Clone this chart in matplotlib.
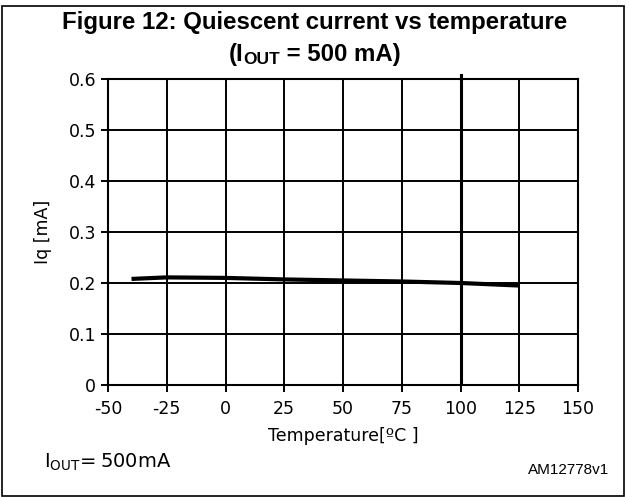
import matplotlib.pyplot as plt
from matplotlib import font_manager
from matplotlib.patches import Rectangle
from matplotlib.lines import Line2D

# data
temperature = [-40, -25, 0, 25, 50, 75, 100, 125]
iq = [0.208, 0.211, 0.210, 0.207, 0.205, 0.203, 0.200, 0.195]
x_ticks = [-50, -25, 0, 25, 50, 75, 100, 125, 150]
y_ticks = [0, 0.1, 0.2, 0.3, 0.4, 0.5, 0.6]
y_labels = ['0', '0.1', '0.2', '0.3', '0.4', '0.5', '0.6']


# pick the regular-width Liberation Sans files (not the Narrow ones)
def liberation(bold):
    for f in font_manager.fontManager.ttflist:
        if f.name == 'Liberation Sans' and 'Narrow' not in f.fname \
                and (f.weight == 700) == bold and f.style == 'normal':
            return font_manager.FontProperties(fname=f.fname)
    return font_manager.FontProperties(family='Liberation Sans',
                                       weight='bold' if bold else 'normal')


title_font = liberation(True)
small_font = liberation(False)

plt.rcParams['font.family'] = ['DejaVu Sans']
plt.rcParams['axes.unicode_minus'] = False
plt.rcParams['mathtext.fontset'] = 'custom'
plt.rcParams['mathtext.rm'] = 'DejaVu Sans'
plt.rcParams['mathtext.sf'] = 'DejaVu Sans'

fig = plt.figure(figsize=(6.29, 4.97), dpi=100)
ax = fig.add_axes([108 / 629, 1 - 385 / 497, 470 / 629, 306 / 497])

# grid
for x in x_ticks:
    lw = 2.2 if x == 100 else 1.4
    ax.axvline(x, color='black', lw=lw, zorder=1)
for y in y_ticks:
    ax.axhline(y, color='black', lw=1.4, zorder=1)
# the thick 100 line pokes out above the frame
ax.add_line(Line2D([100, 100], [0.6, 0.608], color='black', lw=2.2, clip_on=False))

ax.plot(temperature, iq, color='black', lw=3, solid_capstyle='butt', zorder=3)

ax.set_xlim(-50, 150)
ax.set_ylim(0, 0.6)
ax.set_xticks(x_ticks)
ax.set_yticks(y_ticks)
ax.set_yticklabels(y_labels)
ax.tick_params(direction='out', length=5, width=1.4, labelsize=12.5, colors='black')
ax.tick_params(axis='x', pad=6)
for s in ax.spines.values():
    s.set_linewidth(1.5)

ax.set_xlabel('Temperature[ºC ]', fontsize=12.5, labelpad=6)
ax.set_ylabel('Iq [mA]', fontsize=12.5, labelpad=12)

# title: second line built from pieces so the subscript stays in Liberation Sans Bold
fs = 17.3
fig.text(0.5, 1 - 29 / 497, 'Figure 12: Quiescent current vs temperature',
         ha='center', va='baseline', fontproperties=title_font, fontsize=fs)
y2 = 1 - 61 / 497
t1 = fig.text(0, y2, '(I', ha='left', va='baseline', fontproperties=title_font, fontsize=fs)
t2 = fig.text(0, y2 - 3 / 497, 'OUT', ha='left', va='baseline', fontproperties=title_font, fontsize=12.5)
t3 = fig.text(0, y2, ' = 500 mA)', ha='left', va='baseline', fontproperties=title_font, fontsize=fs)
r = fig.canvas.get_renderer()
w1 = t1.get_window_extent(r).width
w2 = t2.get_window_extent(r).width
w3 = t3.get_window_extent(r).width
x0 = (629 - (w1 + w2 + w3)) / 2
t1.set_x(x0 / 629)
t2.set_x((x0 + w1) / 629)
t3.set_x((x0 + w1 + w2) / 629)

# bottom notes
fig.text(44 / 629, 1 - 462 / 497, r'$\mathsf{I_{OUT}\!=500mA}$',
         ha='left', va='center', fontsize=14)
fig.text(609 / 629, 1 - 470 / 497, 'AM12778v1', ha='right', va='center',
         fontproperties=small_font, fontsize=11)

# outer frame
fig.patches.append(Rectangle((1.5 / 629, 1.5 / 497), 622 / 629, 490 / 497,
                             transform=fig.transFigure, fill=False,
                             edgecolor='black', lw=1.2))

fig.savefig('out.png', dpi=100)
